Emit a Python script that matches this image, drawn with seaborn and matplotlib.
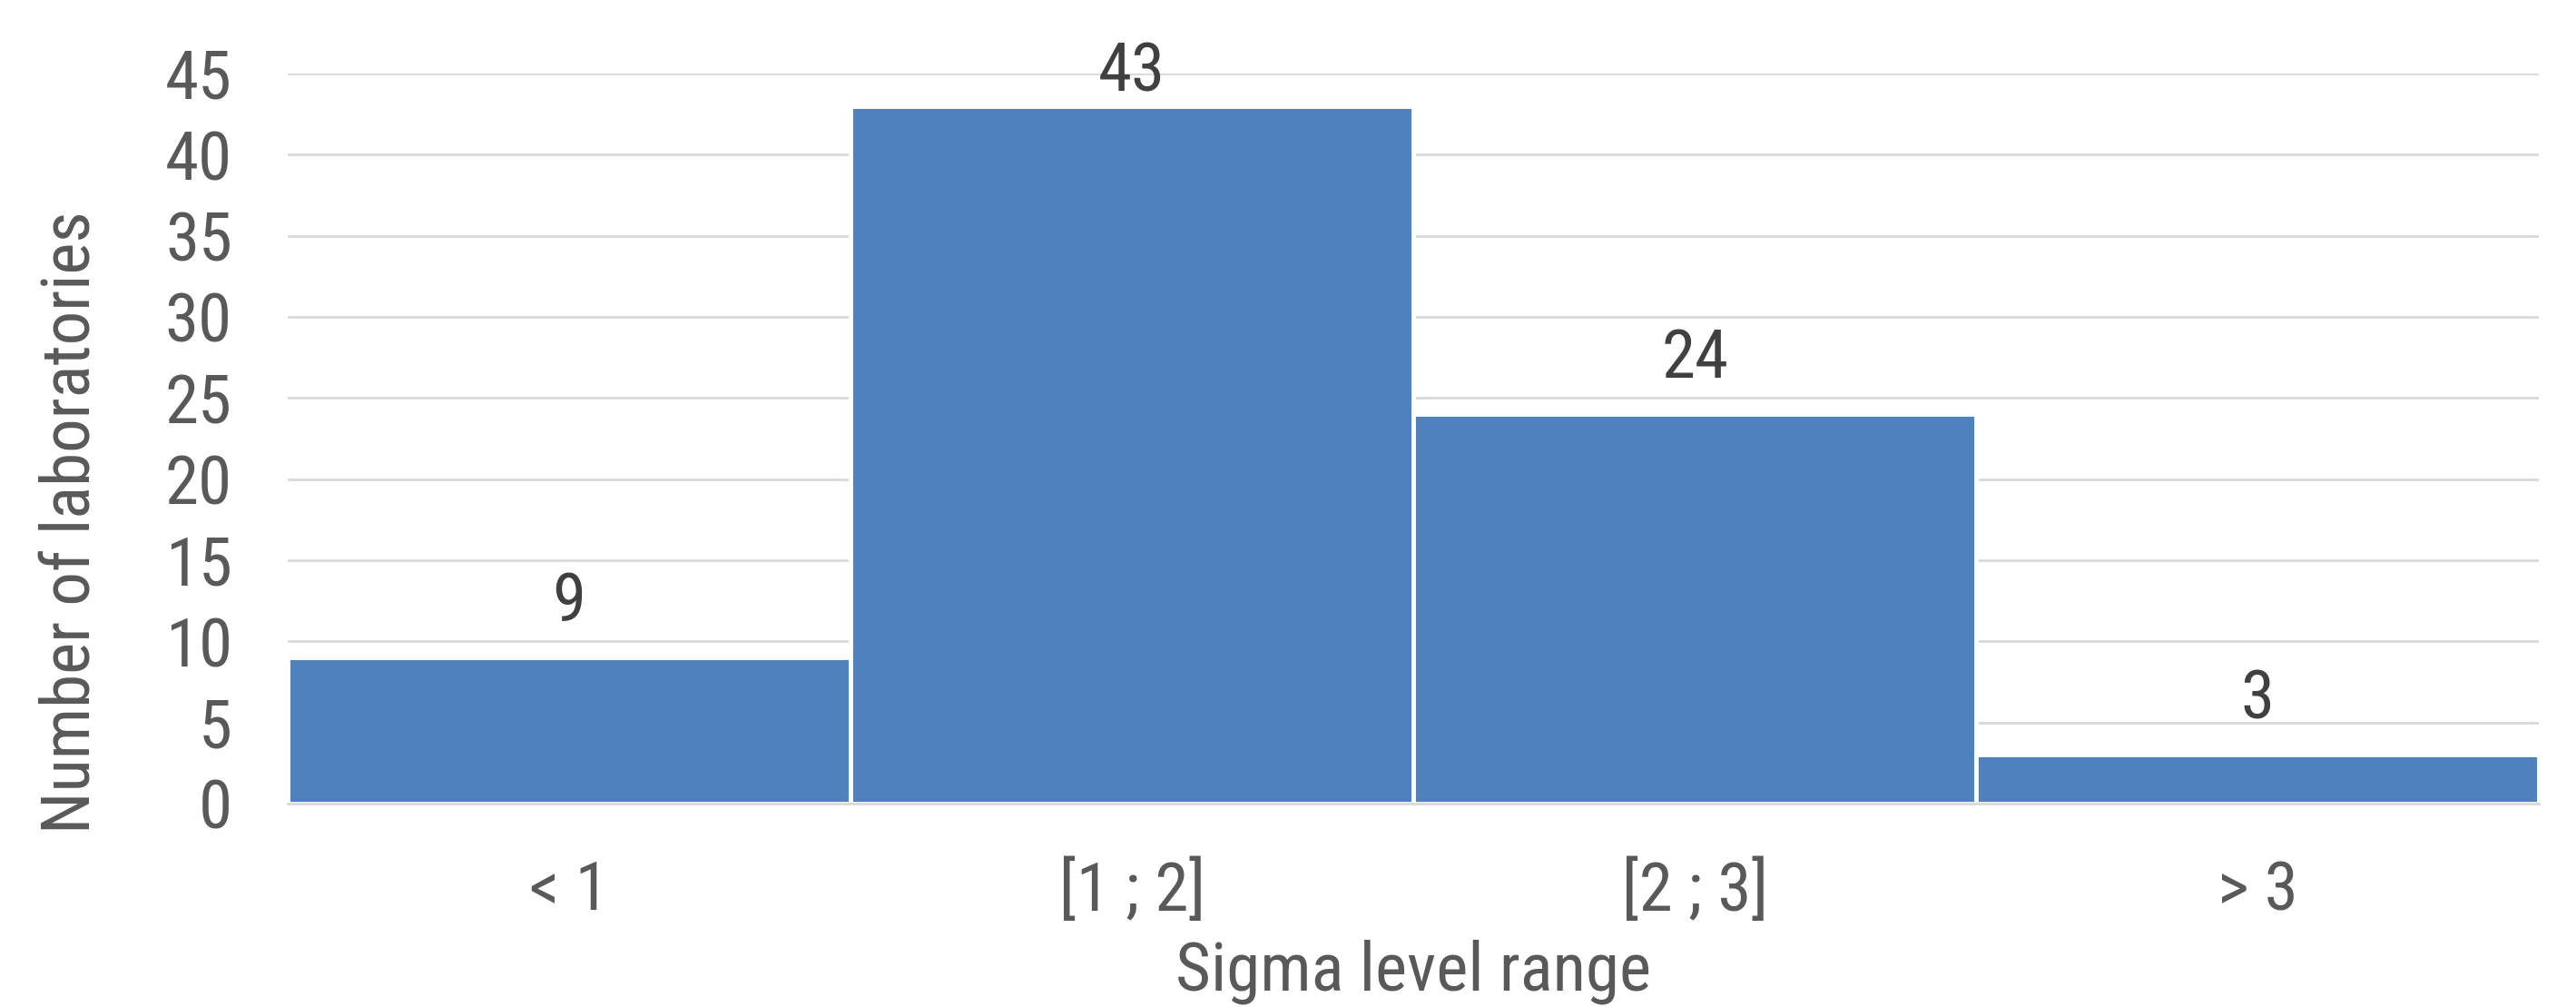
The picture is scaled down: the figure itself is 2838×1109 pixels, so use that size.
import matplotlib
matplotlib.use("Agg")
import matplotlib.pyplot as plt
import seaborn as sns
import pandas as pd

categories = ["< 1", "[1 ; 2]", "[2 ; 3]", "> 3"]
labs = [9, 43, 24, 3]
y_ticks = [0, 5, 10, 15, 20, 25, 30, 35, 40, 45]

sns.set_theme(style="white")
plt.rcParams["font.family"] = ["Roboto Condensed", "Liberation Sans", "DejaVu Sans"]

df = pd.DataFrame({"range": categories, "count": labs})

fig = plt.figure(figsize=(28.38, 11.09), dpi=100)
ax = fig.add_axes([0.1117, 0.202, 0.874, 0.725])

# horizontal gridlines behind the bars
ax.set_axisbelow(True)
ax.yaxis.grid(True, color="#d9d9d9", linewidth=2)

sns.barplot(data=df, x="range", y="count", color="#4f81bd", saturation=1,
            width=1.0, edgecolor="white", linewidth=3.5, ax=ax)

ax.set_xlim(-0.5, 3.5)
ax.set_ylim(0, 45)
ax.set_yticks(y_ticks)

for s in ["top", "right", "left"]:
    ax.spines[s].set_visible(False)
ax.spines["bottom"].set_color("#d9d9d9")
ax.spines["bottom"].set_linewidth(2)

FS = 54
ax.tick_params(axis="both", length=0, labelsize=FS, colors="#595959")
ax.tick_params(axis="y", pad=44)
ax.tick_params(axis="x", pad=44)

ax.set_xlabel("Sigma level range", fontsize=FS, color="#595959", labelpad=12)
ax.set_ylabel("Number of laboratories", fontsize=FS, color="#595959")
ax.yaxis.set_label_coords(-0.082, 0.385)

# value labels above each bar, kept inside the plotting area
for i, v in enumerate(labs):
    pad = 18 if v < 40 else 1
    ax.annotate(str(v), xy=(i, v), xytext=(0, pad), textcoords="offset points",
                ha="center", va="bottom", fontsize=FS, color="#404040")

fig.savefig("out.png", dpi=100)
